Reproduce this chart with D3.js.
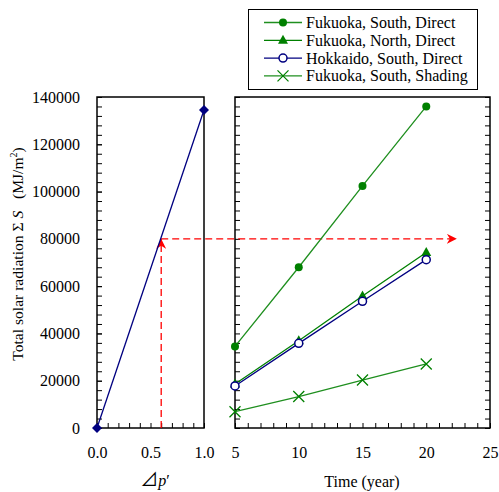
<!DOCTYPE html>
<meta charset="utf-8">
<style>
body { margin: 0; background: #fff; }
svg { font-family: "Liberation Serif", "Times New Roman", serif; font-size: 16px; }
.domain { display: none; }
.tick line { stroke: #000; stroke-width: 1; }
.tick text { fill: #000; font-family: "Liberation Serif", "Times New Roman", serif; font-size: 16px; }
.frame { fill: none; stroke: #000; stroke-width: 1.5; }
</style>
<body>
<script src="https://cdn.jsdelivr.net/npm/d3@7"></script>
<script>

var width = 499,
    height = 492;

// left panel: ratio p' vs total radiation
var pValues = [0, 1.0];
var pRadiation = [0, 134500];

// right panel: years and series
var years = [5, 10, 15, 20];
var fukuokaSouthDirect = [34500, 68000, 102400, 136000];
var fukuokaNorthDirect = [18600, 36900, 55800, 74200];
var hokkaidoSouthDirect = [17800, 35800, 53600, 71200];
var fukuokaSouthShading = [6900, 13300, 20300, 27100];

var seriesNames = ["Fukuoka, South, Direct", "Fukuoka, North, Direct", "Hokkaido, South, Direct", "Fukuoka, South, Shading"];

// guide line
var guideP = 0.6, guideValue = 80000, guideEndYear = 22.4;

var green = "#1f8f1f", greenDark = "#008000", navy = "#000080";

var series = [
  {name: seriesNames[0], values: fukuokaSouthDirect, color: green, marker: "dot"},
  {name: seriesNames[1], values: fukuokaNorthDirect, color: greenDark, marker: "tri"},
  {name: seriesNames[2], values: hokkaidoSouthDirect, color: navy, marker: "open"},
  {name: seriesNames[3], values: fukuokaSouthShading, color: green, marker: "cross"}
];

var svg = d3.select("body").append("svg")
    .attr("width", width)
    .attr("height", height);

var y = d3.scaleLinear().domain([0, 140000]).range([428, 97]);
var xL = d3.scaleLinear().domain([0, 1]).range([97, 204]);
var xR = d3.scaleLinear().domain([5, 25]).range([235, 490]);

var majorY = d3.range(0, 140001, 20000),
    minorY = d3.range(0, 140001, 4000);

// left panel axes
svg.append("g").attr("transform", "translate(" + xL(0) + ",0)")
  .call(d3.axisLeft(y).tickValues(minorY).tickSize(-5).tickFormat(""));
svg.append("g").attr("transform", "translate(" + xL(0) + ",0)")
  .call(d3.axisLeft(y).tickValues(majorY).tickSize(-5).tickPadding(17).tickFormat(d3.format("d")));

svg.append("g").attr("transform", "translate(0," + y(0) + ")")
  .call(d3.axisBottom(xL).tickValues(d3.range(0, 1.01, 0.1)).tickSize(-5).tickFormat(""));
svg.append("g").attr("transform", "translate(0," + y(0) + ")")
  .call(d3.axisBottom(xL).tickValues([0, 0.5, 1]).tickSize(0).tickPadding(19).tickFormat(d3.format(".1f")));

// right panel axes
svg.append("g").attr("transform", "translate(" + xR(5) + ",0)")
  .call(d3.axisLeft(y).tickValues(minorY).tickSize(-5).tickFormat(""));
svg.append("g").attr("transform", "translate(" + xR(25) + ",0)")
  .call(d3.axisRight(y).tickValues(minorY).tickSize(-5).tickFormat(""));
svg.append("g").attr("transform", "translate(0," + y(0) + ")")
  .call(d3.axisBottom(xR).tickValues(d3.range(5, 26, 1)).tickSize(-5).tickFormat(""));
svg.append("g").attr("transform", "translate(0," + y(0) + ")")
  .call(d3.axisBottom(xR).tickValues([5, 10, 15, 20, 25]).tickSize(0).tickPadding(19));

// frames
svg.append("rect").attr("class", "frame")
  .attr("x", xL(0)).attr("y", y(140000))
  .attr("width", xL(1) - xL(0)).attr("height", y(0) - y(140000));
svg.append("rect").attr("class", "frame")
  .attr("x", xR(5)).attr("y", y(140000))
  .attr("width", xR(25) - xR(5)).attr("height", y(0) - y(140000));

// red guide
var defs = svg.append("defs");
defs.append("marker").attr("id", "arrow")
  .attr("viewBox", "0 0 10 10").attr("refX", 10).attr("refY", 5)
  .attr("markerWidth", 10).attr("markerHeight", 10).attr("markerUnits", "userSpaceOnUse")
  .attr("orient", "auto")
  .append("path").attr("d", "M0,0L10,5L0,10L3,5Z").attr("fill", "#ff0000");

svg.append("line")
  .attr("x1", xL(guideP)).attr("y1", y(0))
  .attr("x2", xL(guideP)).attr("y2", y(guideValue))
  .attr("stroke", "#ff0000").attr("stroke-width", 1.3)
  .attr("stroke-dasharray", "7,4")
  .attr("marker-end", "url(#arrow)");
svg.append("line")
  .attr("x1", xL(guideP)).attr("y1", y(guideValue))
  .attr("x2", xR(guideEndYear)).attr("y2", y(guideValue))
  .attr("stroke", "#ff0000").attr("stroke-width", 1.3)
  .attr("stroke-dasharray", "7,4")
  .attr("marker-end", "url(#arrow)");

// left line
var pData = pValues.map(function(p, i) { return [p, pRadiation[i]]; });
svg.append("path")
  .attr("d", d3.line().x(function(d) { return xL(d[0]); }).y(function(d) { return y(d[1]); })(pData))
  .attr("fill", "none").attr("stroke", navy).attr("stroke-width", 1.3);
svg.selectAll(".diamond").data(pData).enter().append("path")
  .attr("class", "diamond")
  .attr("transform", function(d) { return "translate(" + xL(d[0]) + "," + y(d[1]) + ")"; })
  .attr("d", "M0,-5L5,0L0,5L-5,0Z")
  .attr("fill", navy);

function drawMarker(g, type, color) {
  if (type == "dot") {
    g.append("circle").attr("r", 4).attr("fill", greenDark);
  } else if (type == "tri") {
    g.append("path").attr("d", "M0,-5.5L5,3.5L-5,3.5Z").attr("fill", greenDark);
  } else if (type == "open") {
    g.append("circle").attr("r", 4).attr("fill", "#fff").attr("stroke", navy).attr("stroke-width", 1.5);
  } else {
    g.append("path").attr("d", "M-5.5,-5.5L5.5,5.5M-5.5,5.5L5.5,-5.5").attr("stroke", greenDark).attr("stroke-width", 1.3);
  }
}

var line = d3.line()
  .x(function(d) { return xR(d[0]); })
  .y(function(d) { return y(d[1]); });

series.forEach(function(s) {
  var pts = years.map(function(yr, i) { return [yr, s.values[i]]; });
  svg.append("path").attr("d", line(pts))
    .attr("fill", "none").attr("stroke", s.color).attr("stroke-width", 1.3);
  pts.forEach(function(d) {
    var g = svg.append("g").attr("transform", "translate(" + xR(d[0]) + "," + y(d[1]) + ")");
    drawMarker(g, s.marker, s.color);
  });
});

// legend
var legend = svg.append("g");
legend.append("rect")
  .attr("x", 248.5).attr("y", 9.5).attr("width", 229).attr("height", 80)
  .attr("fill", "#fff").attr("stroke", "#000").attr("stroke-width", 1);
series.forEach(function(s, i) {
  var ly = 22.5 + i * 17.8;
  legend.append("line").attr("x1", 264).attr("x2", 302).attr("y1", ly).attr("y2", ly)
    .attr("stroke", s.color).attr("stroke-width", 1.3);
  drawMarker(legend.append("g").attr("transform", "translate(283," + ly + ")"), s.marker, s.color);
  legend.append("text").attr("x", 306).attr("y", ly + 5.5).text(s.name);
});

// axis titles
svg.append("text").attr("x", 362).attr("y", 487).attr("text-anchor", "middle").text("Time (year)");
var pt = svg.append("text").attr("x", 155).attr("y", 486).attr("text-anchor", "middle");
pt.append("tspan").attr("font-size", 18).attr("font-family", "Noto Sans CJK JP").text("\u22BF");
pt.append("tspan").attr("font-style", "italic").text("p");
pt.append("tspan").text("\u2032");

var yl = svg.append("text")
  .attr("transform", "translate(23,254)rotate(-90)")
  .attr("text-anchor", "middle")
  .attr("font-size", 15.6);
yl.append("tspan").text("Total solar radiation \u03A3 ");
yl.append("tspan").attr("font-style", "italic").text("S");
yl.append("tspan").text("\u00A0\u00A0\u00A0(MJ/m");
yl.append("tspan").attr("dy", -6).attr("font-size", 10).text("2");
yl.append("tspan").attr("dy", 6).text(")");

</script>
